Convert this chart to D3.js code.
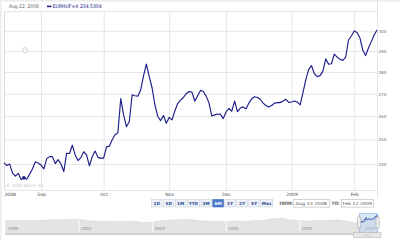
<!DOCTYPE html>
<html><head><meta charset="utf-8">
<script src="https://cdn.jsdelivr.net/npm/d3@7"></script>
<style>html,body{margin:0;padding:0;background:#fff;overflow:hidden}svg{display:block}text{font-family:Verdana,"DejaVu Sans",sans-serif}</style>
</head><body><svg id="c" width="400" height="240"></svg>
<script>
// EUR/HUF daily closes, Aug 13 2008 – Feb 12 2009 (trading days)
const values = [
240.5,239.4,240.0,236.4,235.2,236.3,233.9,234.5304,234.0,236.0,
238.0,240.9,240.4,239.6,238.1,242.2,243.0,243.0,240.2,241.8,
240.0,237.0,244.4,244.3,247.7,243.7,241.4,242.6,245.0,243.7,
239.3,243.0,245.3,242.7,242.4,242.4,247.0,247.3,250.0,252.1,
252.9,267.8,260.6,255.5,257.6,269.5,269.1,268.9,271.7,278.2,
283.7,277.8,272.7,265.0,259.9,258.1,260.3,257.0,259.5,258.4,
262.3,265.6,267.1,268.3,270.0,271.0,270.7,266.6,269.1,271.5,
271.0,268.9,265.8,260.1,260.6,261.0,260.8,259.0,261.9,263.4,
262.2,266.7,262.0,263.6,264.1,263.2,265.8,267.7,268.6,268.3,
267.5,265.8,264.7,264.1,264.7,265.8,266.0,266.0,266.7,267.5,
266.1,266.3,266.7,266.3,265.0,270.5,276.4,281.1,283.0,279.2,
277.8,278.3,280.4,286.2,283.7,283.9,288.5,287.1,286.0,285.5,
287.1,295.4,297.4,299.9,299.1,296.4,290.5,287.8,291.5,294.6,
297.9,300.4];
const startDate = "2008-08-13";
const endDate = "2009-02-12";
const monthLabels = ["2008","Sep","Oct","Nov","Dec","2009","Feb"];
const monthStarts = ["2008-08-13","2008-09-01","2008-10-01","2008-11-03","2008-12-01","2009-01-01","2009-02-02"];
const yTicks = [240,250,260,270,280,290,300];
const hoverDate = "2008-08-22";
const symbol = "EURHUF=X";
const buttons = ["1D","5D","1M","YTD","3M","6M","1Y","2Y","5Y","Max"];
const activeButton = "6M";
const fromText = "Aug 13 2008";
const toText = "Feb 12 2009";
// overview (quarterly) 1999–2009
const ovDates = ["1999-01-01","1999-04-01","1999-07-01","1999-10-01","2000-01-01","2000-04-01","2000-07-01","2000-10-01",
"2001-01-01","2001-04-01","2001-07-01","2001-10-01","2002-01-01","2002-04-01","2002-07-01","2002-10-01",
"2003-01-01","2003-04-01","2003-07-01","2003-10-01","2004-01-01","2004-04-01","2004-07-01","2004-10-01",
"2005-01-01","2005-04-01","2005-07-01","2005-10-01","2006-01-01","2006-04-01","2006-07-01","2006-10-01",
"2007-01-01","2007-04-01","2007-07-01","2007-10-01","2008-01-01","2008-04-01","2008-07-01","2008-10-01","2009-01-01","2009-02-12"];
const ovValues = [251,253,254,253,256,259,261,264,266,250,248,246,244,243,246,236,240,252,258,262,264,252,248,246,
245,250,245,252,255,268,274,258,252,248,252,253,260,250,232,265,275,300];
const ovYears = ["1999","2001","2003","2005","2007","2009"];

const parse = d3.timeParse("%Y-%m-%d");
const fmtH = d3.timeFormat("%b %d, %Y");
const dates = d3.timeDay.range(parse(startDate), d3.timeDay.offset(parse(endDate),1))
  .filter(d => d.getDay() !== 0 && d.getDay() !== 6);
const data = values.map((v,i)=>({date:dates[i], v}));

const svg = d3.select("#c");
const W=400,H=240;
const L=4,R=377,T=11,B=190;
const navy="#1c1c8c";

// frame
svg.append("rect").attr("x",0).attr("y",0).attr("width",W).attr("height",H).attr("fill","#fff");
svg.append("rect").attr("x",0).attr("y",0).attr("width",W).attr("height",1.5).attr("fill","#ececec");
svg.append("rect").attr("x",0).attr("y",0).attr("width",1.5).attr("height",H).attr("fill","#ececec");
svg.append("line").attr("x1",R+0.5).attr("x2",R+0.5).attr("y1",0).attr("y2",197).attr("stroke","#e3e3e3");
svg.append("line").attr("x1",L).attr("x2",R).attr("y1",T+0.5).attr("y2",T+0.5).attr("stroke","#e3e3e3");

const x = d3.scaleLinear().domain([0, values.length-1]).range([L, R]);
const y = d3.scaleLog().domain([229.8, 310.1]).range([B, T]);

// y axis with gridlines
const ya = svg.append("g").attr("transform",`translate(${R},0)`)
  .call(d3.axisRight(y).tickValues(yTicks).tickFormat(d3.format("d")).tickSize(-(R-L)).tickPadding(1.5));
ya.select(".domain").remove();
ya.selectAll("line").attr("stroke","#e6e6e6");
ya.selectAll("text").attr("font-size",4.1).attr("fill","#666").attr("font-family","Verdana, DejaVu Sans, sans-serif");

// x axis (month starts)
const tickIdx = monthStarts.map(s => dates.findIndex(d => +d === +parse(s)));
const xa = svg.append("g").attr("transform",`translate(0,${B})`)
  .call(d3.axisBottom(x).tickValues(tickIdx).tickFormat((d,i)=>monthLabels[i]).tickSize(-(B-T)).tickPadding(2.6));
xa.select(".domain").attr("stroke","#e6e6e6");
xa.selectAll("line").attr("stroke","#e6e6e6");
xa.selectAll("text").attr("font-size",4.5).attr("fill","#444").attr("font-family","Verdana, DejaVu Sans, sans-serif");
xa.select(".tick text").attr("text-anchor","start").attr("x",0);
svg.append("line").attr("x1",L+0.5).attr("x2",L+0.5).attr("y1",T).attr("y2",B).attr("stroke","#dcdcdc");

// copyright
svg.append("text").attr("x",6).attr("y",186.6).attr("font-size",4.4).attr("fill","#c4c4c4")
  .attr("textLength",39).attr("lengthAdjust","spacingAndGlyphs").text("© 2008 Yahoo! Inc.");

// grab cursor hint
svg.append("path").attr("d","M22.5,50.5 q0,-3 2.5,-3 q2.5,0 2.5,3 l-0.8,2.2 h-3.4 z")
  .attr("fill","#fafafa").attr("stroke","#b0b0b0").attr("stroke-width",0.5);

// line
svg.append("path").datum(data).attr("fill","none").attr("stroke",navy).attr("stroke-width",1.15)
  .attr("stroke-linejoin","round")
  .attr("d", d3.line().x((d,i)=>x(i)).y(d=>y(d.v)));

// hover point
const hi = dates.findIndex(d => +d === +parse(hoverDate));
svg.append("circle").attr("cx",x(hi)).attr("cy",y(values[hi])).attr("r",1.8).attr("fill",navy);

// header
svg.append("text").attr("x",9).attr("y",8).attr("font-size",5).attr("fill","#666")
  .attr("textLength",32.7).attr("lengthAdjust","spacingAndGlyphs").text(fmtH(parse(hoverDate)).replace(/ 0(\d),/," $1,")+" :");
svg.append("rect").attr("x",47).attr("y",5.6).attr("width",4.5).attr("height",1.6).attr("fill",navy);
svg.append("text").attr("x",52.7).attr("y",8).attr("font-size",5).attr("fill",navy)
  .attr("textLength",49).attr("lengthAdjust","spacingAndGlyphs").text(symbol+" "+values[hi].toFixed(4));

// range buttons
const bw = buttons.map(b => b.length>2 ? 12.6 : 11);
let bx = 151;
const bpos = bw.map(w => { const p = bx; bx += w + 0.95; return p; });
const bg = svg.append("g");
buttons.forEach((b,i)=>{
  const act = b===activeButton;
  bg.append("rect").attr("x",bpos[i]+0.5).attr("y",199.5).attr("width",bw[i]-0.5).attr("height",7.5)
    .attr("fill",act?"#4a7bcc":"#eef1f7").attr("stroke",act?"#3b69b5":"#c9cfdb").attr("stroke-width",0.6);
  bg.append("text").attr("x",bpos[i]+bw[i]/2+0.25).attr("y",204.9).attr("text-anchor","middle")
    .attr("font-size",4.2).attr("font-weight","bold").attr("fill",act?"#fff":"#2a4a94").text(b);
});
// from / to
svg.append("text").attr("x",279.5).attr("y",205).attr("font-size",4.6).attr("font-weight","bold").attr("fill","#555")
  .attr("textLength",13.6).attr("lengthAdjust","spacingAndGlyphs").text("FROM:");
svg.append("rect").attr("x",293.8).attr("y",199.3).attr("width",35.5).attr("height",7.8).attr("fill","#fff").attr("stroke","#b5b5b5").attr("stroke-width",0.6);
svg.append("text").attr("x",295.5).attr("y",205).attr("font-size",4.2).attr("fill","#555")
  .attr("textLength",31.5).attr("lengthAdjust","spacingAndGlyphs").text(fromText);
svg.append("text").attr("x",331.5).attr("y",205).attr("font-size",4.6).attr("font-weight","bold").attr("fill","#555")
  .attr("textLength",8.3).attr("lengthAdjust","spacingAndGlyphs").text("TO:");
svg.append("rect").attr("x",341.2).attr("y",199.3).attr("width",32.2).attr("height",7.8).attr("fill","#fff").attr("stroke","#b5b5b5").attr("stroke-width",0.6);
svg.append("text").attr("x",342.6).attr("y",205).attr("font-size",4.2).attr("fill","#555")
  .attr("textLength",29.5).attr("lengthAdjust","spacingAndGlyphs").text(toText);

// overview strip
const ox = d3.scaleTime().domain([parse("1999-01-01"), parse(endDate)]).range([5.5, 377.7]);
const oy = d3.scaleLinear().domain([150, 320]).range([232, 213]);
const ov = ovDates.map((s,i)=>({date:parse(s), v:ovValues[i]}));
svg.append("path").datum(ov).attr("fill","#e4e4e4").attr("stroke","#d8d8d8").attr("stroke-width",0.5)
  .attr("d", d3.area().x(d=>ox(d.date)).y0(232).y1(d=>oy(d.v)));
ovYears.forEach((yr,i)=>{
  const xx = ox(parse(yr+"-01-01"));
  if (i>0 && i<ovYears.length-1) svg.append("line").attr("x1",xx).attr("x2",xx).attr("y1",214).attr("y2",232).attr("stroke","#fff").attr("stroke-width",0.8);
  svg.append("text").attr("x", i===ovYears.length-1 ? 364.5 : xx+1.8).attr("y",230).attr("font-size",4.2).attr("fill","#8a8a8a").text(yr);
});
// selected window
const wx0 = ox(parse(startDate)), wx1 = ox(parse(endDate));
svg.append("rect").attr("x",wx0).attr("y",213.5).attr("width",wx1-wx0).attr("height",19).attr("fill","#bcd3f0").attr("fill-opacity",0.55)
  .attr("stroke","#8fb0e0").attr("stroke-width",0.6);
svg.append("path").datum(data).attr("fill","none").attr("stroke","#3050b0").attr("stroke-width",0.7)
  .attr("d", d3.line().x(d=>ox(d.date)).y(d=>oy(d.v)));
[wx0, wx1].forEach(hx=>{
  svg.append("rect").attr("x",hx-1.6).attr("y",217).attr("width",3.2).attr("height",11).attr("rx",0.8)
    .attr("fill","#f2f2f2").attr("stroke","#8c8c8c").attr("stroke-width",0.5);
});
// scrollbar
svg.append("rect").attr("x",5).attr("y",232.5).attr("width",351).attr("height",2.6).attr("fill","#d2d2d2");
svg.append("rect").attr("x",353.5).attr("y",232.5).attr("width",27.5).attr("height",5.2).attr("fill","#e6e6e6").attr("stroke","#b0b0b0").attr("stroke-width",0.5);
[364.5,366.8,369.1].forEach(gx=>svg.append("line").attr("x1",gx).attr("x2",gx+1.4).attr("y1",235.1).attr("y2",235.1).attr("stroke","#999").attr("stroke-width",0.5));
</script></body></html>
